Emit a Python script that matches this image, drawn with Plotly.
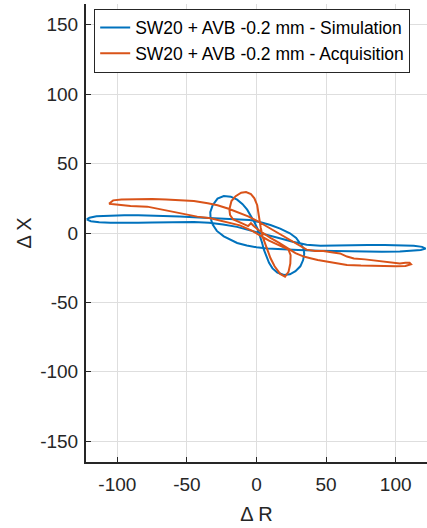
import plotly.graph_objects as go

# Simulation (blue) trajectory
sim_r = [-122, -120, -115, -105, -95, -85, -75, -65, -55, -45, -35, -25, -15, -5, 3, 10, 17, 24, 28.5, 31.6,
         33.8, 34.3, 33.5, 31.5, 28, 24, 19.6, 15, 11.5, 9, 7, 5.3, 4, 2.5, 0.8, -1.9, -4.5, -6.7, -10, -13.9,
         -18.5, -23.5, -28, -31.5, -33.2, -33, -31.5, -28.5, -23.5, -18.5, -13.9, -7, 0, 8, 18, 30, 45, 60, 75, 90,
         103, 112, 118, 121.5, 119, 113, 104, 92, 80, 68, 56, 46, 36, 26, 16, 6, -4, -14, -24, -34,
         -45, -55, -65, -75, -85, -95, -105, -113, -119, -122]
sim_x = [9.8, 11, 12, 12.6, 12.8, 12.8, 12.6, 12.3, 11.9, 11.3, 10.7, 10.3, 9.9, 9.3, 7.8, 5.8, 3.2, -0.2, -3.5, -7.4,
         -11, -15, -19.5, -24, -27.5, -29.8, -30.3, -28.5, -25.5, -21.5, -17, -12, -7, -2, 3, 8.4, 12.8, 16.8, 20.8, 24,
         26.2, 26.6, 24.8, 20, 15, 10.8, 6, 1.5, -2.4, -5.2, -7.2, -9, -10.3, -11.2, -11.8, -12.3, -12.8, -13.2, -13.4, -13.5,
         -13.4, -13, -12.3, -11.2, -10, -9.2, -8.8, -8.6, -8.6, -8.7, -8.9, -9.2, -8.4, -6.3, -3.6, -0.8, 2, 4.4, 6.2, 7.4,
         8, 8, 7.7, 7.5, 7.3, 7.2, 7.3, 7.7, 8.5, 9.8]

# Acquisition (orange) trajectory
acq_r = [-106, -103, -97, -85, -75, -65, -55, -45, -35, -28, -20, -12, -6, 0, 5, 12, 18, 24, 30, 36,
         42, 48, 55, 60, 65, 70, 78, 87, 96, 103, 107, 110, 111, 107, 100, 92, 84, 75, 65, 58,
         50, 44, 38, 34, 28, 22, 16, 10, 5, 1, -2, -4, -6, -9, -13, -17, -19, -19.5, -18, -15,
         -11, -7.5, -4, -1.5, 0.5, 1.7, 3, 4.5, 7, 10, 13, 17, 20.5, 23, 24.3, 24.5, 23, 16, 9, 3,
         -3, -12, -23.5, -33, -42.6, -54.6, -64, -78.5, -90.5, -100, -106]
acq_x = [21, 23.5, 24.2, 24.5, 24.5, 24.2, 23.8, 23, 21.4, 20, 17.5, 14.5, 12, 9, 6, 2, -1.5, -5, -8.5, -12,
         -13, -13, -14, -14.7, -17, -18.3, -19, -20, -21.5, -22, -21.5, -21.5, -22.5, -23.8, -24, -24, -24, -23.5, -23, -22,
         -20.5, -19.5, -18, -17, -14.5, -10.5, -7, -3.5, -0.5, 2.5, 5, 7, 5, 6.5, 8, 10, 13, 17, 23, 26.5,
         29, 29.5, 28, 25, 20, 11, 4, -3, -10, -18, -24, -29.5, -31.5, -28, -22, -16, -12, -9, -5.5, -2,
         1.5, 5.5, 8.2, 10.6, 11.8, 14.2, 16.6, 19, 19.5, 20.2, 21]

x_ticks = [-100, -50, 0, 50, 100]
y_ticks = [-150, -100, -50, 0, 50, 100, 150]

AXC = "#262626"
GRID = "#dedede"

fig = go.Figure()
fig.add_trace(go.Scatter(x=sim_r, y=sim_x, mode="lines",
                         line=dict(color="#0072BD", width=2),
                         name="SW20 + AVB -0.2 mm - Simulation"))
fig.add_trace(go.Scatter(x=acq_r, y=acq_x, mode="lines",
                         line=dict(color="#D95319", width=2),
                         name="SW20 + AVB -0.2 mm - Acquisition"))

fig.update_layout(
    width=427, height=528,
    margin=dict(l=86, r=0, t=4, b=66),
    paper_bgcolor="white", plot_bgcolor="white",
    font=dict(family="Liberation Sans, Arial, sans-serif", color=AXC),
    showlegend=True,
    legend=dict(x=0.024, y=0.99, xanchor="left", yanchor="top",
                bgcolor="white", bordercolor=AXC, borderwidth=1,
                font=dict(size=17.5, color="#000000"), tracegroupgap=0),
)
fig.update_xaxes(range=[-122.5, 122.5], tickvals=x_ticks, ticktext=[str(v) for v in x_ticks],
                 automargin=False,
                 showgrid=True, gridcolor=GRID, gridwidth=1, zeroline=False,
                 showline=True, linecolor=AXC, linewidth=2, mirror=False,
                 ticks="inside", ticklen=5, tickcolor=AXC, tickwidth=1,
                 tickfont=dict(size=19, color=AXC), ticklabelstandoff=4,
                 title=dict(text="Δ R", font=dict(size=20, color=AXC), standoff=13))
fig.update_yaxes(range=[-165, 165], tickvals=y_ticks, ticktext=[str(v) for v in y_ticks],
                 automargin=False,
                 showgrid=True, gridcolor=GRID, gridwidth=1, zeroline=False,
                 showline=True, linecolor=AXC, linewidth=2, mirror=False,
                 ticks="inside", ticklen=5, tickcolor=AXC, tickwidth=1,
                 tickfont=dict(size=19, color=AXC), ticklabelstandoff=2,
                 title=dict(text="Δ X", font=dict(size=20, color=AXC), standoff=3))

fig.write_html("out.html", config={"displayModeBar": False},
               post_script="document.body.style.margin='0';document.body.style.overflow='hidden';")
